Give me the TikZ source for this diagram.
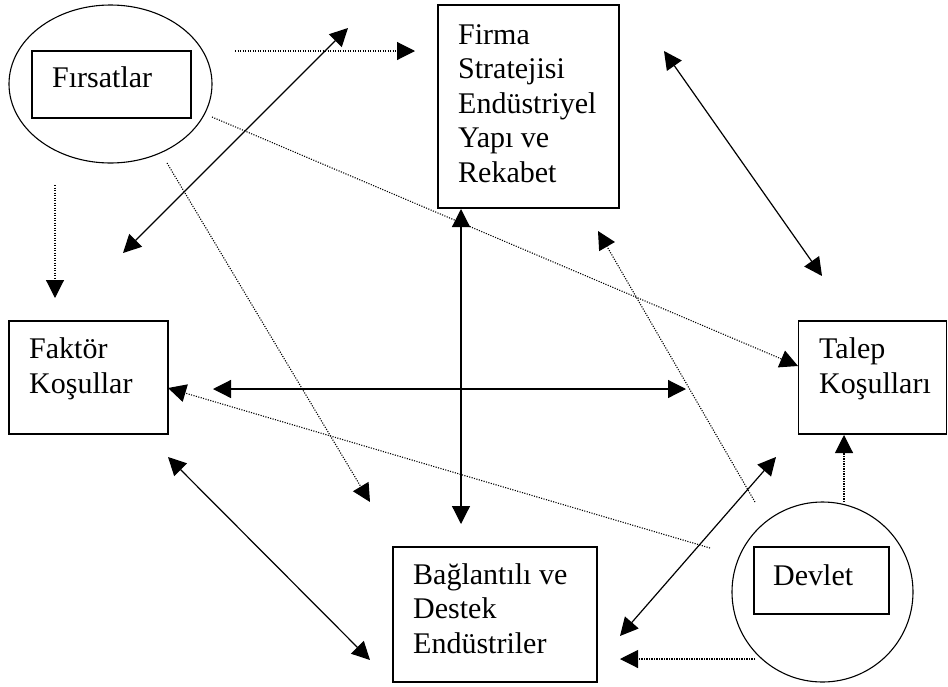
\documentclass[tikz,border=0pt]{standalone}
\usepackage{fontspec}
\setmainfont{Liberation Serif}
\usetikzlibrary{arrows.meta,shapes.geometric}
\begin{document}
\begin{tikzpicture}[x=1pt,y=-1pt,
  box/.style={draw, line width=1.1pt, inner sep=0pt},
  oval/.style={draw, ellipse, line width=1.1pt, inner sep=0pt},
  lbl/.style={anchor=base west, inner sep=0pt, align=left, font=\fontsize{30}{34.5}\selectfont},
  solidarrow/.style={line width=1.2pt, {Triangle[length=18pt,width=18pt]}-{Triangle[length=18pt,width=18pt]}},
  dotarrow/.style={line width=1.1pt, dash pattern=on 1.1pt off 1.4pt, -{Triangle[length=18pt,width=18pt]}}]
\useasboundingbox (0,0) rectangle (948,686);
% shapes
\node[oval, minimum width=203pt, minimum height=158pt] (firsatoval) at (110.5,84) {};
\node[box, minimum width=159pt, minimum height=67pt] (firsatbox) at (111.5,84.5) {};
\node[box, minimum width=181pt, minimum height=203pt] (firma) at (528.5,106.5) {};
\node[box, minimum width=159pt, minimum height=113pt] (faktor) at (88.5,377.5) {};
\node[box, minimum width=148pt, minimum height=113pt] (talep) at (872.5,377.5) {};
\node[box, minimum width=204pt, minimum height=135pt] (baglanti) at (495,614.5) {};
\node[oval, minimum width=181pt, minimum height=180pt] (devletoval) at (822.5,592) {};
\node[box, minimum width=135pt, minimum height=67pt] (devletbox) at (821.5,580.5) {};
% labels (anchored at the baseline of the last line)
\node[lbl] (tfirsat) at (52,87) {Fırsatlar};
\node[lbl] (tfirma) at (458,182) {Firma\\Stratejisi\\Endüstriyel\\Yapı ve\\Rekabet};
\node[lbl] (tfaktor) at (29,393) {Faktör\\Koşullar};
\node[lbl] (ttalep) at (819,393) {Talep\\Koşulları};
\node[lbl] (tbaglanti) at (413,653) {Bağlantılı ve\\Destek\\Endüstriler};
\node[lbl] (tdevlet) at (773,585) {Devlet};
% connector end points
\coordinate (a1s) at (235,51);  \coordinate (a1e) at (415,51);
\coordinate (a2s) at (123,253); \coordinate (a2e) at (348,28);
\coordinate (a3s) at (212,117); \coordinate (a3e) at (798,366);
\coordinate (a4s) at (167,163); \coordinate (a4e) at (370,502);
\coordinate (a5s) at (55,185);  \coordinate (a5e) at (55,298);
\coordinate (a6s) at (461,209); \coordinate (a6e) at (461,524);
\coordinate (a7s) at (213,389); \coordinate (a7e) at (686,389);
\coordinate (a8s) at (755,502); \coordinate (a8e) at (598,231);
\coordinate (a9s) at (664,51);  \coordinate (a9e) at (822,276);
\coordinate (a10s) at (710,548); \coordinate (a10e) at (168,388);
\coordinate (a11s) at (168,457); \coordinate (a11e) at (370,660);
\coordinate (a12s) at (776,457); \coordinate (a12e) at (620,636);
\coordinate (a13s) at (844,502); \coordinate (a13e) at (844,435);
\coordinate (a14s) at (755,659); \coordinate (a14e) at (620,659);
% connectors
\draw[dotarrow] (a1s) -- (a1e);
\draw[solidarrow] (a2s) -- (a2e);
\draw[dotarrow] (a3s) -- (a3e);
\draw[dotarrow] (a4s) -- (a4e);
\draw[dotarrow] (a5s) -- (a5e);
\draw[solidarrow] (a6s) -- (a6e);
\draw[solidarrow] (a7s) -- (a7e);
\draw[dotarrow] (a8s) -- (a8e);
\draw[solidarrow] (a9s) -- (a9e);
\draw[dotarrow] (a10s) -- (a10e);
\draw[solidarrow] (a11s) -- (a11e);
\draw[solidarrow] (a12s) -- (a12e);
\draw[dotarrow] (a13s) -- (a13e);
\draw[dotarrow] (a14s) -- (a14e);
\end{tikzpicture}
\end{document}
